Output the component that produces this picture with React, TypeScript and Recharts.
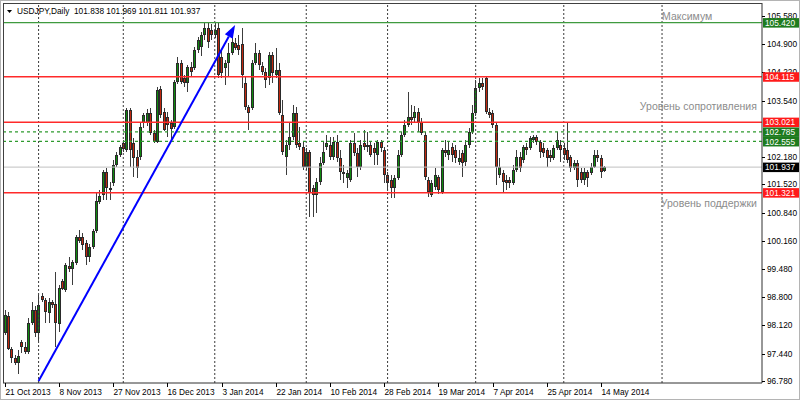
import React from 'react';
import { ComposedChart, Bar, XAxis, YAxis, ReferenceLine, ReferenceDot } from 'recharts';

// ---------- data ----------
const openP = [
  97.94, 98.35, 97.55, 97.34, 97.21, 97.72, 97.60, 97.48, 98.18, 98.49,
  97.94, 98.83, 98.73, 98.42, 98.69, 98.64, 98.16, 99.19, 98.97, 99.55,
  99.48, 99.62, 100.25, 100.25, 100.11, 99.77, 100.01, 100.40, 101.10, 101.27,
  101.82, 101.43, 101.55, 101.99, 102.23, 102.52, 102.35, 103.31, 102.52, 102.18,
  102.18, 103.00, 103.00, 103.24, 102.76, 102.54, 103.82, 103.27, 103.15, 102.99,
  102.90, 103.99, 104.45, 104.09, 103.96, 104.35, 104.33, 104.76, 104.83, 105.12,
  105.29, 105.24, 105.12, 105.29, 104.59, 104.33, 104.45, 104.69, 104.93, 104.88,
  104.90, 103.96, 103.39, 103.36, 104.45, 104.69, 104.37, 104.23, 104.09, 104.64,
  104.16, 104.28, 103.19, 102.18, 102.47, 102.66, 103.24, 102.52, 102.42, 101.94,
  102.30, 101.43, 101.27, 101.58, 102.04, 102.42, 102.47, 102.18, 102.54, 102.16,
  101.82, 101.68, 101.63, 102.52, 102.28, 101.94, 102.52, 102.42, 102.47, 102.40,
  102.23, 102.54, 102.35, 101.75, 101.63, 101.43, 101.68, 102.23, 102.71, 102.95,
  103.15, 103.12, 103.27, 103.02, 102.71, 101.63, 101.27, 101.46, 101.70, 101.34,
  102.35, 102.23, 102.42, 102.35, 102.06, 102.28, 102.06, 102.47, 102.78, 103.24,
  103.84, 103.96, 104.09, 103.27, 103.24, 102.95, 101.75, 101.80, 101.63, 101.63,
  101.55, 101.87, 102.18, 102.11, 102.42, 102.40, 102.59, 102.66, 102.54, 102.40,
  102.35, 102.23, 102.16, 102.40, 102.47, 102.40, 102.35, 102.18, 101.92, 102.04,
  101.82, 101.63, 101.82, 101.80, 101.94, 102.23, 102.16, 101.838,
];
const highP = [
  98.49, 98.45, 97.60, 97.41, 97.53, 97.77, 97.72, 98.30, 98.69, 98.59,
  98.85, 98.90, 98.78, 98.78, 98.73, 99.41, 99.10, 99.24, 99.62, 99.77,
  99.70, 100.30, 100.42, 100.35, 100.18, 100.08, 100.45, 101.34, 101.39, 101.87,
  101.92, 101.58, 102.11, 102.30, 102.47, 102.59, 103.36, 103.36, 102.64, 102.35,
  103.00, 103.24, 103.34, 103.36, 102.83, 103.87, 103.89, 103.36, 103.27, 103.07,
  104.04, 104.59, 104.52, 104.16, 104.40, 104.47, 104.83, 105.07, 105.19, 105.41,
  105.41, 105.39, 105.41, 105.42, 104.76, 104.52, 104.93, 105.12, 105.05, 105.12,
  105.29, 104.11, 103.43, 104.52, 104.93, 104.76, 104.47, 104.33, 104.71, 104.71,
  104.81, 104.45, 103.56, 102.59, 103.00, 103.43, 103.39, 102.90, 102.54, 102.40,
  102.35, 101.51, 101.68, 102.18, 102.54, 102.71, 102.66, 102.66, 102.71, 102.35,
  101.99, 101.87, 102.59, 102.76, 102.40, 102.59, 102.83, 102.78, 102.54, 102.52,
  102.59, 102.59, 102.42, 101.82, 101.75, 101.75, 102.35, 102.78, 103.07, 103.75,
  103.43, 103.41, 103.36, 103.12, 102.78, 101.70, 101.63, 101.92, 101.75, 102.40,
  102.59, 102.54, 102.52, 102.47, 102.35, 102.35, 102.59, 102.88, 103.43, 104.04,
  104.09, 104.09, 104.13, 103.36, 103.31, 103.02, 102.16, 101.87, 101.75, 101.70,
  101.99, 102.35, 102.30, 102.47, 102.52, 102.69, 102.71, 102.71, 102.59, 102.52,
  102.40, 102.35, 102.47, 102.78, 102.59, 102.52, 103.02, 102.23, 102.11, 102.11,
  101.92, 101.92, 101.87, 102.04, 102.35, 102.35, 102.23, 101.969,
];
const lowP = [
  97.89, 97.53, 97.21, 97.17, 96.95, 97.46, 97.43, 97.43, 98.13, 97.84,
  97.74, 98.69, 98.18, 98.18, 98.54, 97.60, 97.96, 98.97, 98.93, 99.41,
  99.10, 99.58, 100.11, 99.94, 99.58, 99.65, 99.96, 100.35, 101.05, 101.14,
  101.14, 101.14, 101.48, 101.94, 102.18, 102.30, 102.30, 101.94, 101.70, 101.68,
  102.11, 102.88, 102.93, 102.71, 102.52, 102.52, 103.12, 102.81, 102.66, 102.59,
  102.86, 103.94, 103.94, 103.87, 103.75, 104.13, 104.28, 104.69, 104.62, 105.00,
  104.81, 105.00, 105.05, 104.09, 104.09, 103.92, 104.11, 104.64, 104.76, 104.64,
  103.84, 103.31, 102.83, 103.31, 104.40, 104.28, 104.16, 103.84, 103.92, 103.96,
  104.09, 103.19, 102.23, 101.75, 102.35, 102.59, 102.40, 102.35, 101.87, 101.87,
  100.73, 100.73, 100.83, 101.51, 101.99, 102.35, 102.11, 102.11, 102.06, 101.63,
  101.55, 101.43, 101.58, 102.21, 101.70, 101.87, 102.35, 102.30, 102.18, 101.99,
  101.99, 102.30, 101.55, 101.39, 101.19, 101.19, 101.63, 102.18, 102.66, 102.90,
  102.95, 103.02, 102.78, 102.71, 101.63, 101.22, 101.22, 101.39, 101.29, 101.29,
  102.18, 102.11, 102.06, 102.04, 101.99, 101.70, 101.96, 102.40, 102.74, 103.17,
  103.75, 103.80, 103.22, 103.12, 102.88, 101.51, 101.68, 101.34, 101.39, 101.43,
  101.51, 101.82, 101.82, 102.04, 102.23, 102.35, 102.52, 102.47, 102.16, 102.18,
  101.94, 102.06, 102.11, 102.35, 102.06, 102.11, 102.04, 101.82, 101.87, 101.46,
  101.55, 101.51, 101.46, 101.75, 101.92, 102.06, 101.68, 101.811,
];
const closeP = [
  98.37, 97.55, 97.34, 97.21, 97.38, 97.60, 97.48, 98.18, 98.49, 97.94,
  98.61, 98.73, 98.45, 98.69, 98.61, 98.18, 99.02, 99.00, 99.58, 99.48,
  99.65, 100.25, 100.16, 100.06, 99.77, 100.01, 100.40, 101.12, 101.24, 101.82,
  101.43, 101.39, 101.99, 102.23, 102.42, 102.37, 103.31, 102.35, 102.16, 101.92,
  102.90, 103.19, 103.24, 102.76, 102.54, 103.80, 103.19, 102.83, 102.95, 102.86,
  103.99, 104.45, 103.99, 103.96, 104.35, 104.23, 104.76, 105.00, 105.12, 105.29,
  104.95, 105.12, 105.24, 104.16, 104.21, 104.45, 104.69, 104.95, 104.81, 104.76,
  104.16, 103.39, 103.24, 104.45, 104.69, 104.40, 104.23, 104.04, 104.64, 104.21,
  104.28, 103.24, 102.30, 102.47, 102.66, 103.24, 102.47, 102.42, 101.94, 102.30,
  101.31, 101.27, 101.58, 102.04, 102.30, 102.52, 102.18, 102.54, 102.16, 101.82,
  101.77, 101.80, 102.52, 102.28, 101.94, 102.47, 102.42, 102.47, 102.23, 102.28,
  102.54, 102.40, 101.75, 101.55, 101.43, 101.68, 102.23, 102.71, 102.95, 103.15,
  103.07, 103.27, 103.02, 102.76, 101.70, 101.34, 101.55, 101.75, 101.39, 102.35,
  102.28, 102.35, 102.23, 102.16, 102.16, 102.04, 102.47, 102.78, 103.24, 103.84,
  103.96, 103.87, 103.27, 103.19, 102.95, 101.94, 101.94, 101.58, 101.55, 101.55,
  101.87, 102.18, 101.92, 102.42, 102.35, 102.64, 102.66, 102.54, 102.30, 102.28,
  102.16, 102.16, 102.40, 102.59, 102.35, 102.23, 102.11, 101.92, 102.04, 101.63,
  101.63, 101.82, 101.68, 101.94, 102.23, 102.16, 101.82, 101.937,
];

const symbolName = 'USDJPY,Daily';
const tickLabels = [
  '21 Oct 2013', '8 Nov 2013', '27 Nov 2013', '16 Dec 2013', '3 Jan 2014', '22 Jan 2014',
  '10 Feb 2014', '28 Feb 2014', '19 Mar 2014', '7 Apr 2014', '25 Apr 2014', '14 May 2014',
];
const barsPerTick = 16;
const priceTicks = [105.58, 104.9, 104.22, 103.54, 102.18, 101.52, 100.84, 100.16, 99.48, 98.8, 98.12, 97.44, 96.78];
const monthStartBars = [10, 35, 62, 89, 113, 139, 165, 194];
const maxLevel = 105.42;
const redLevels = [104.115, 103.021, 101.321];
const greenLevels = [102.785, 102.555];
const lastPrice = 101.937;
const trendStart = { bar: 10, price: 96.78 };
const trendEnd = { bar: 68, price: 105.36 };
const noteMax = 'Максимум';
const noteResistance = 'Уровень сопротивления';
const noteSupport = 'Уровень поддержки';

// ---------- layout ----------
const W = 800;
const H = 400;
const Y_AXIS_W = 38;
const X_AXIS_H = 17;
const MARGIN = { top: 3, right: 0, bottom: 0, left: 3 };
const PLOT_RIGHT = W - MARGIN.right - Y_AXIS_W;
const PLOT_BOTTOM = H - MARGIN.bottom - X_AXIS_H;
const SLOTS = 224;
const FONT = '"Liberation Sans", Arial, sans-serif';

const GREEN_TAG = '#1e7b1e';
const RED_TAG = '#ff1a1a';

const data = Array.from({ length: SLOTS }, (_, i) =>
  i < openP.length
    ? { i, o: openP[i], h: highP[i], l: lowP[i], c: closeP[i], range: [lowP[i], highP[i]] }
    : { i }
);
const tickBars = tickLabels.map((_, k) => k * barsPerTick);

const tagFill = (v: number): string | null => {
  if (v === lastPrice) return '#000';
  if (redLevels.includes(v)) return RED_TAG;
  if (v === maxLevel || greenLevels.includes(v)) return GREEN_TAG;
  return null;
};
// plain ticks first, then tag ticks so the tags sit on top of the plain labels
const axisTicks = [...priceTicks, lastPrice, maxLevel, ...redLevels, ...greenLevels];

const Candle = (props: any) => {
  const { x, y, width, height, payload } = props;
  if (!payload || payload.o == null || !isFinite(y) || !isFinite(height)) return null;
  const { o, h, l, c } = payload;
  const k = height / (h - l);
  const n = Math.round(x + width / 2);
  const py = (p: number) => y + (h - p) * k;
  const top = Math.round(py(Math.max(o, c)));
  const bot = Math.round(py(Math.min(o, c)));
  const up = c >= o;
  const bh = Math.max(1, bot - top);
  return (
    <g shapeRendering="crispEdges">
      <line x1={n + 0.5} x2={n + 0.5} y1={y} y2={y + height} stroke="#3c3c3c" strokeWidth={1} />
      <rect x={n - 1} y={top} width={3} height={bh} fill="#2a2a2a" />
      {bh > 2 && <rect x={n} y={top + 1} width={1} height={bh - 2} fill={up ? '#0f8a0f' : '#c0280f'} />}
    </g>
  );
};

const XTick = (props: any) => {
  const { x, payload } = props;
  const label = tickLabels[Math.round(payload.value / barsPerTick)];
  const xx = Math.round(x) + 0.5;
  return (
    <g>
      <line x1={xx} x2={xx} y1={PLOT_BOTTOM} y2={PLOT_BOTTOM + 4} stroke="#000" />
      <text x={xx} y={PLOT_BOTTOM + 12} fontSize={8.3} fontFamily={FONT} fill="#000">
        {label}
      </text>
    </g>
  );
};

const YTick = (props: any) => {
  const { y, payload } = props;
  const v = Number(payload.value);
  const fill = tagFill(v);
  if (fill) {
    return (
      <g>
        <rect x={PLOT_RIGHT + 1} y={y - 4.5} width={36} height={9.5} fill={fill} />
        <text x={PLOT_RIGHT + 3} y={y + 3.2} fontSize={8.3} fontFamily={FONT} fill="#fff">
          {v.toFixed(3)}
        </text>
      </g>
    );
  }
  const yy = Math.round(y) + 0.5;
  return (
    <g>
      <line x1={PLOT_RIGHT} x2={PLOT_RIGHT + 3} y1={yy} y2={yy} stroke="#000" />
      <text x={PLOT_RIGHT + 5} y={y + 3} fontSize={8.3} fontFamily={FONT} fill="#000">
        {v.toFixed(3)}
      </text>
    </g>
  );
};

const Note = (props: any) => {
  const { viewBox, text, anchor } = props;
  if (!viewBox) return null;
  return (
    <text
      x={viewBox.x + (viewBox.width || 0) / 2}
      y={viewBox.y + (viewBox.height || 0) / 2}
      textAnchor={anchor}
      fontSize={10.5}
      fontFamily={FONT}
      fill="#8c8c8c"
    >
      {text}
    </text>
  );
};

const Arrow = (p: any) => {
  const { x1, y1, x2, y2 } = p;
  if (![x1, y1, x2, y2].every((v) => isFinite(v))) return null;
  const a = Math.atan2(y2 - y1, x2 - x1);
  const L = 13;
  const hw = 4.5;
  const bx = x2 - L * Math.cos(a);
  const by = y2 - L * Math.sin(a);
  const pts = `${x2},${y2} ${bx - hw * Math.sin(a)},${by + hw * Math.cos(a)} ${bx + hw * Math.sin(a)},${by - hw * Math.cos(a)}`;
  return (
    <g>
      <line x1={x1} y1={y1} x2={bx} y2={by} stroke="#0000ff" strokeWidth={2} />
      <polygon points={pts} fill="#0000ff" />
    </g>
  );
};

export default function App() {
  const last = openP.length - 1;
  const ohlc = [openP[last], highP[last], lowP[last], closeP[last]].map((v) => v.toFixed(3)).join(' ');
  return (
    <div style={{ position: 'absolute', left: 0, top: 0, width: W, height: H, background: '#fff' }}>
      <ComposedChart width={W} height={H} data={data} margin={MARGIN} barCategoryGap={0}>
        <XAxis
          dataKey="i"
          type="category"
          ticks={tickBars}
          interval={0}
          tick={<XTick />}
          tickLine={false}
          axisLine={{ stroke: '#303030' }}
          height={X_AXIS_H}
        />
        <YAxis
          orientation="right"
          type="number"
          domain={[96.732, 105.893]}
          allowDataOverflow
          ticks={axisTicks}
          interval={0}
          tick={<YTick />}
          tickLine={false}
          axisLine={{ stroke: '#303030' }}
          width={Y_AXIS_W}
        />
        {monthStartBars.map((b) => (
          <ReferenceLine key={'m' + b} x={b} stroke="#3a3a3a" strokeDasharray="2 2" strokeWidth={1} />
        ))}
        <ReferenceLine y={lastPrice} stroke="#c0c0c0" strokeWidth={1} />
        <Bar dataKey="range" barSize={3} shape={<Candle />} isAnimationActive={false} />
        <ReferenceLine y={maxLevel} stroke="#3f9a3f" strokeWidth={1.2} />
        {redLevels.map((v) => (
          <ReferenceLine key={'r' + v} y={v} stroke="#ff2a2a" strokeWidth={1.5} />
        ))}
        {greenLevels.map((v) => (
          <ReferenceLine key={'g' + v} y={v} stroke="#2e9a2e" strokeWidth={1.2} strokeDasharray="3 3" />
        ))}
        <ReferenceLine
          segment={[
            { x: trendStart.bar, y: trendStart.price },
            { x: trendEnd.bar, y: trendEnd.price },
          ]}
          shape={<Arrow />}
        />
        <ReferenceDot x={194} y={105.485} r={0} fill="none" stroke="none" label={<Note text={noteMax} anchor="start" />} />
        <ReferenceDot x={222} y={103.31} r={0} fill="none" stroke="none" label={<Note text={noteResistance} anchor="end" />} />
        <ReferenceDot x={222} y={100.98} r={0} fill="none" stroke="none" label={<Note text={noteSupport} anchor="end" />} />
      </ComposedChart>
      <div style={{ position: 'absolute', left: MARGIN.left, top: MARGIN.top, width: PLOT_RIGHT - MARGIN.left, height: PLOT_BOTTOM - MARGIN.top, borderLeft: '1px solid #404040', borderTop: '1px solid #404040', boxSizing: 'border-box', pointerEvents: 'none' }} />
      <div style={{ position: 'absolute', left: 0, top: 0, width: W, height: H, border: '1px solid #b4b4b4', boxSizing: 'border-box', pointerEvents: 'none' }} />
      <svg width={W} height={30} style={{ position: 'absolute', left: 0, top: 0, pointerEvents: 'none' }}>
        <polygon points="7,10 12,10 9.5,13" fill="#000" />
        <text x={17} y={14} fontSize={8.3} fontFamily={FONT} fill="#000">{symbolName}</text>
        <text x={74} y={14} fontSize={8.3} fontFamily={FONT} fill="#000" style={{ whiteSpace: 'pre' }}>{ohlc}</text>
      </svg>
    </div>
  );
}
